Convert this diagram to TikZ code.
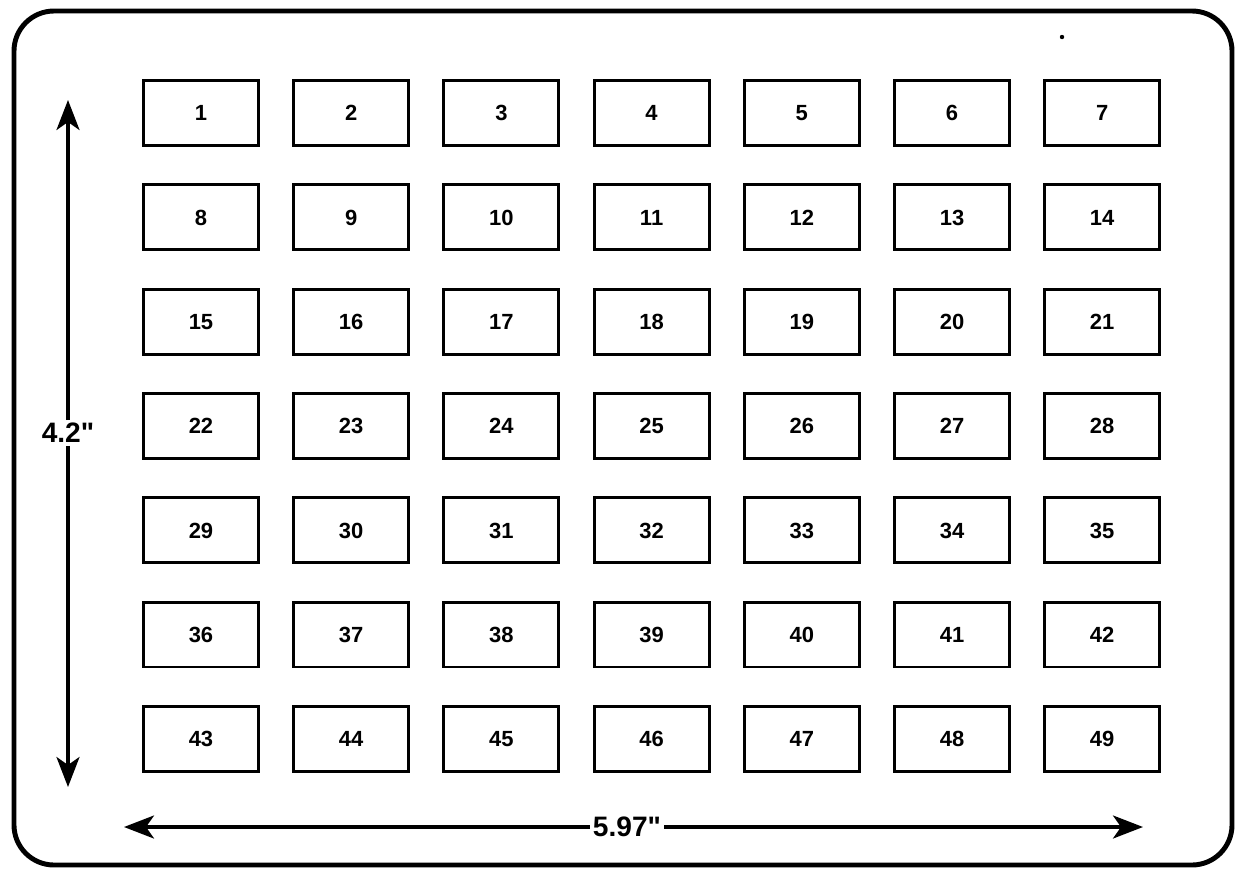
\documentclass[tikz,border=0pt]{standalone}
\usepackage{fontspec}
\setmainfont{Liberation Sans}
\usetikzlibrary{arrows.meta}

\begin{document}
\begin{tikzpicture}[x=0.02cm,y=-0.02cm]
   \tikzset{pad/.style={draw, line width=1.7pt, minimum width=2.3cm, minimum height=1.3cm, inner sep=0pt, text height=9pt, text depth=0pt, font=\bfseries\fontsize{12.5}{12.5}\selectfont},
            dim/.style={line width=2pt, -{Stealth[length=6mm,width=4.6mm,inset=1.6mm]}},
            dimlabel/.style={inner sep=1.5pt, font=\bfseries\fontsize{16}{16}\selectfont}};

\useasboundingbox (0,0) rectangle (1241,873);
\draw[line width=2.8pt, rounded corners=0.8cm] (14,11) rectangle (1232,865);
\fill (1062,37) circle (2.2);

\foreach \r in {0,...,6}
  \foreach \c in {0,...,6}
  {
    \pgfmathtruncatemacro{\n}{7*\r+\c+1}
    \node[pad] (b\n) at (201+150.2*\c, 113+104.3*\r) {\n};
  }

\coordinate (vtop) at (68,100);
\coordinate (vbot) at (68,787);
\node[dimlabel] (h) at (68,433) {4.2\textquotedbl};
\draw[dim] (h) -- (vtop);
\draw[dim] (h) -- (vbot);

\coordinate (hleft) at (124,827);
\coordinate (hright) at (1143,827);
\node[dimlabel] (w) at (627,827) {5.97\textquotedbl};
\draw[dim] (w) -- (hleft);
\draw[dim] (w) -- (hright);

\end{tikzpicture}
\end{document}
